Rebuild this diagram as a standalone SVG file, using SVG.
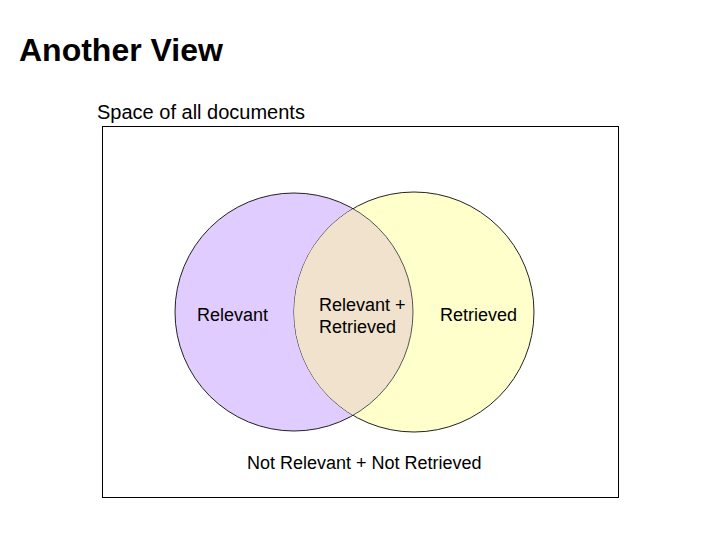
<svg xmlns="http://www.w3.org/2000/svg" width="720" height="540" viewBox="0 0 720 540">
<style>
text{font-family:"Liberation Sans",Arial,sans-serif;fill:#000}
.lbl{font-size:18px}
.c{stroke:#222;stroke-width:1}
</style>
<defs>
<clipPath id="clipL"><circle cx="294" cy="312" r="119"/></clipPath>
<clipPath id="clipR"><circle cx="414" cy="312" r="120"/></clipPath>
</defs>
<rect x="0" y="0" width="720" height="540" fill="#fff"/>
<text x="19" y="61" style="font-size:32px;font-weight:bold">Another View</text>
<text x="97" y="119" style="font-size:20px">Space of all documents</text>
<g id="space"><rect x="102.5" y="126.5" width="516" height="371" fill="none" stroke="#000" stroke-width="1"/></g>
<g id="relevant">
<circle class="c" cx="294" cy="312" r="119" fill="#E0CCFF"/>
</g>
<g id="retrieved">
<circle class="c" cx="414" cy="312" r="120" fill="#FFFFCC"/>
</g>
<g id="overlap">
<circle cx="414" cy="312" r="120" fill="#F0E2CC" clip-path="url(#clipL)"/>
<circle cx="294" cy="312" r="119" fill="none" stroke="#555" stroke-width="1" clip-path="url(#clipR)"/>
</g>
<text class="lbl" x="197" y="321">Relevant</text>
<text class="lbl" x="319" y="311">Relevant +</text>
<text class="lbl" x="319" y="333">Retrieved</text>
<text class="lbl" x="440" y="321">Retrieved</text>
<text class="lbl" x="247" y="469">Not Relevant + Not Retrieved</text>
</svg>
